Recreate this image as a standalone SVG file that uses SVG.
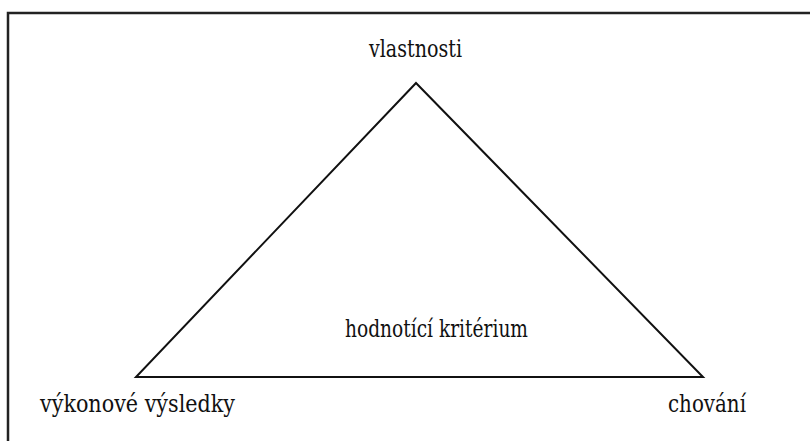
<svg xmlns="http://www.w3.org/2000/svg" width="810" height="441" viewBox="0 0 810 441">
<style>
.edge{fill:none;stroke:#111;stroke-width:2;stroke-linejoin:miter}
.lbl{font-family:'DejaVu Serif',serif;font-size:25px;fill:#111}
</style>
<rect width="810" height="441" fill="#fff"/>
<path d="M8,441 V13 H810" fill="none" stroke="#222" stroke-width="2.5"/>
<g id="connectors">
<polygon class="edge" points="416,83 136,377 703,377"/>
</g>
<g id="vlastnosti"><text class="lbl" x="369" y="57" textLength="93" lengthAdjust="spacingAndGlyphs">vlastnosti</text></g>
<g id="hodnotici"><text class="lbl" x="345" y="337" textLength="183" lengthAdjust="spacingAndGlyphs">hodnotící kritérium</text></g>
<g id="vykonove"><text class="lbl" x="40" y="412" textLength="195" lengthAdjust="spacingAndGlyphs">výkonové výsledky</text></g>
<g id="chovani"><text class="lbl" x="668" y="412" textLength="78" lengthAdjust="spacingAndGlyphs">chování</text></g>
</svg>
